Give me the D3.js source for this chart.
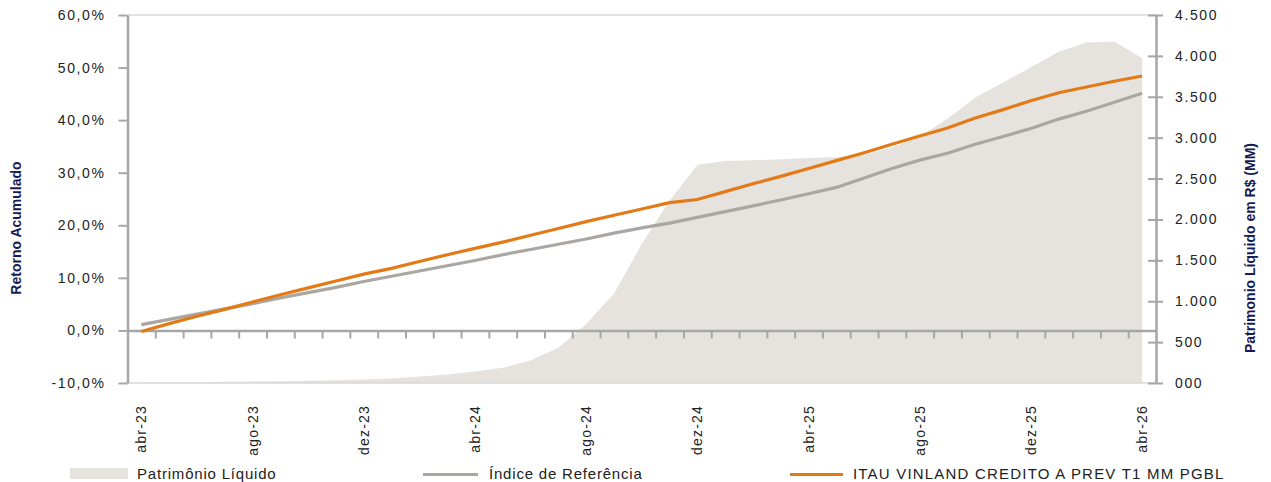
<!DOCTYPE html>
<html>
<head>
<meta charset="utf-8">
<script src="https://cdn.jsdelivr.net/npm/d3@7"></script>
<style>
  body { margin: 0; background: #fff; }
  text { font-family: "Liberation Sans", Arial, sans-serif; }
</style>
</head>
<body>
<div id="chart"></div>
<script>
// months abr-23 .. abr-26
const months = ["abr-23","mai-23","jun-23","jul-23","ago-23","set-23","out-23","nov-23","dez-23",
  "jan-24","fev-24","mar-24","abr-24","mai-24","jun-24","jul-24","ago-24","set-24","out-24","nov-24","dez-24",
  "jan-25","fev-25","mar-25","abr-25","mai-25","jun-25","jul-25","ago-25","set-25","out-25","nov-25","dez-25",
  "jan-26","fev-26","mar-26","abr-26"];

// retorno acumulado do fundo (%)
const fundo = [-0.2, 1.3, 2.7, 4.0, 5.4, 6.8, 8.1, 9.4, 10.7, 11.8, 13.1, 14.4, 15.6, 16.8, 18.1, 19.4, 20.7,
  21.9, 23.1, 24.3, 24.9, 26.4, 27.9, 29.3, 30.8, 32.3, 33.8, 35.4, 37.0, 38.5, 40.4, 42.0, 43.7, 45.2, 46.3, 47.4, 48.4];

// indice de referencia (%)
const indice = [1.1, 2.1, 3.1, 4.1, 5.1, 6.2, 7.2, 8.2, 9.3, 10.3, 11.3, 12.3, 13.3, 14.4, 15.4, 16.4, 17.4,
  18.5, 19.5, 20.4, 21.5, 22.6, 23.7, 24.8, 26.0, 27.2, 29.0, 30.8, 32.4, 33.7, 35.4, 36.9, 38.4, 40.2, 41.7, 43.4, 45.1];

// patrimonio liquido R$ MM
const pl = [5, 8, 10, 14, 18, 22, 28, 35, 42, 55, 80, 105, 140, 185, 275, 430, 720,
  1090, 1700, 2230, 2670, 2715, 2725, 2735, 2750, 2765, 2790, 2880, 3010, 3230, 3490, 3675, 3860, 4050, 4165, 4177, 3970];

const leftTicks = [-10, 0, 10, 20, 30, 40, 50, 60];
const rightTicks = [0, 500, 1000, 1500, 2000, 2500, 3000, 3500, 4000, 4500];

const W = 1271, H = 482;
const x0 = 127.5, x1 = 1156, yTop = 15, yBot = 383;

let svg = d3.select("#chart").append("svg")
  .attr("width", W).attr("height", H);

const xBand = d3.scaleBand().domain(months).range([x0, x1]).padding(0);
const xLin = d3.scaleLinear().domain([0, months.length]).range([x0, x1]);
const cx = (m) => xBand(m) + xBand.bandwidth() / 2;

const yL = d3.scaleLinear().domain([-10, 60]).range([yBot, yTop]);
const yR = d3.scaleLinear().domain([0, 4500]).range([yBot, yTop]);

const axisGray = "#a6a6a6";

// patrimonio area
const area = d3.area()
  .x((d, i) => cx(months[i]))
  .y0(yR(0))
  .y1(d => yR(d));
svg.append("path")
  .datum(pl)
  .attr("fill", "#e6e3df")
  .attr("d", area);

// top and bottom frame
svg.append("line").attr("x1", x0).attr("x2", x1).attr("y1", yTop).attr("y2", yTop)
  .attr("stroke", "#d9d9d9").attr("stroke-width", 1.5);
svg.append("line").attr("x1", x0).attr("x2", x1).attr("y1", yBot).attr("y2", yBot)
  .attr("stroke", "#d9d9d9").attr("stroke-width", 1.5);

// category axis on 0%
const xAxis = svg.append("g")
  .attr("transform", `translate(0,${yL(0)})`)
  .call(d3.axisBottom(xLin).tickValues(d3.range(1, months.length)).tickSize(8).tickFormat("").tickSizeOuter(0));
xAxis.select(".domain").attr("stroke", axisGray).attr("stroke-width", 2.5);
xAxis.selectAll(".tick line").attr("stroke", axisGray).attr("stroke-width", 2);

// month labels
svg.selectAll(".mlabel")
  .data(months.filter((m, i) => i % 4 === 0))
  .enter()
  .append("text")
  .attr("class", "mlabel")
  .attr("transform", d => `translate(${cx(d) + 5},405) rotate(-90)`)
  .attr("text-anchor", "end")
  .attr("font-size", 14)
  .attr("letter-spacing", "1.2px")
  .attr("fill", "#222")
  .text(d => d);

// left axis
const fmtPct = d => d.toFixed(1).replace(".", ",") + "%";
const gL = svg.append("g")
  .attr("transform", `translate(${x0},0)`)
  .call(d3.axisLeft(yL).tickValues(leftTicks).tickSize(9).tickPadding(13).tickFormat(fmtPct).tickSizeOuter(0));
gL.select(".domain").attr("stroke", axisGray).attr("stroke-width", 2.5);
gL.selectAll(".tick line").attr("stroke", axisGray).attr("stroke-width", 2);
gL.selectAll(".tick text").attr("font-size", 14).attr("letter-spacing", "1.6px").attr("fill", "#222");

// right axis
const loc = d3.formatLocale({ decimal: ",", thousands: ".", grouping: [3], currency: ["R$", ""] });
const fmtPL = d => d === 0 ? "000" : loc.format(",")(d);
const gR = svg.append("g")
  .attr("transform", `translate(${x1},0)`)
  .call(d3.axisRight(yR).tickValues(rightTicks).tickSize(7).tickPadding(12).tickFormat(fmtPL).tickSizeOuter(0));
gR.select(".domain").attr("stroke", axisGray).attr("stroke-width", 2.5);
gR.selectAll(".tick line").attr("x1", -8).attr("stroke", axisGray).attr("stroke-width", 2);
gR.selectAll(".tick text").attr("font-size", 14).attr("letter-spacing", "1.6px").attr("fill", "#222");

// lines
const line = d3.line().x((d, i) => cx(months[i])).y(d => yL(d));
svg.append("path").datum(indice)
  .attr("fill", "none").attr("stroke", "#aaa7a3").attr("stroke-width", 3.2)
  .attr("d", line);
svg.append("path").datum(fundo)
  .attr("fill", "none").attr("stroke", "#e27b17").attr("stroke-width", 3.2)
  .attr("d", line);

// axis titles
svg.append("text")
  .attr("transform", `translate(21,228) rotate(-90)`)
  .attr("text-anchor", "middle")
  .attr("font-size", 14).attr("font-weight", "bold").attr("fill", "#161a56")
  .text("Retorno Acumulado");
svg.append("text")
  .attr("transform", `translate(1255,248) rotate(-90)`)
  .attr("text-anchor", "middle")
  .attr("font-size", 14).attr("font-weight", "bold").attr("fill", "#161a56")
  .text("Patrimonio Líquido em R$ (MM)");

// legend
const lg = svg.append("g").attr("font-size", 15).attr("fill", "#222");
lg.append("rect").attr("x", 70).attr("y", 468).attr("width", 58).attr("height", 11).attr("fill", "#e6e3df");
lg.append("text").attr("x", 137).attr("y", 479).attr("letter-spacing", "0.8px").text("Patrimônio Líquido");
lg.append("line").attr("x1", 423).attr("x2", 478).attr("y1", 474.5).attr("y2", 474.5)
  .attr("stroke", "#aaa7a3").attr("stroke-width", 3);
lg.append("text").attr("x", 489).attr("y", 479).attr("letter-spacing", "0.8px").text("Índice de Referência");
lg.append("line").attr("x1", 790).attr("x2", 843).attr("y1", 474.5).attr("y2", 474.5)
  .attr("stroke", "#e27b17").attr("stroke-width", 3);
lg.append("text").attr("x", 853).attr("y", 479).attr("letter-spacing", "1.2px").text("ITAU VINLAND CREDITO A PREV T1 MM PGBL");
</script>
</body>
</html>
